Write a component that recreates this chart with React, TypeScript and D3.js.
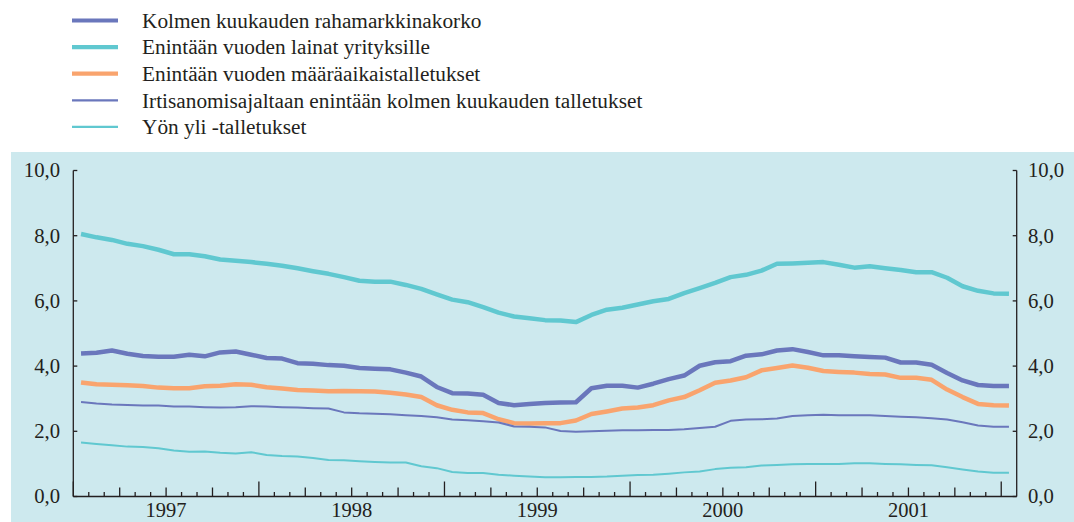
import React from "react";
import * as d3 from "d3";

const W = 1074;
const H = 522;

// Monthly observations, Jan 1997 .. Jan 2002 (61 months)
const months: Date[] = d3.timeMonth.range(new Date(1997, 0, 1), new Date(2002, 1, 1));

const yearLabels = ["1997", "1998", "1999", "2000", "2001"];
const yTicks = [0, 2, 4, 6, 8, 10];

const rahamarkkinakorko = [
  4.39, 4.41, 4.48, 4.38, 4.31, 4.29, 4.29, 4.35, 4.30, 4.42, 4.45, 4.35, 4.25, 4.23, 4.09,
  4.07, 4.03, 4.01, 3.94, 3.92, 3.90, 3.80, 3.68, 3.36, 3.17, 3.16, 3.12, 2.87, 2.80, 2.84,
  2.87, 2.88, 2.89, 3.32, 3.40, 3.40, 3.34, 3.46, 3.60, 3.71, 4.01, 4.12, 4.15, 4.32, 4.36,
  4.48, 4.52, 4.43, 4.33, 4.33, 4.30, 4.28, 4.26, 4.11, 4.11, 4.04, 3.79, 3.56, 3.42, 3.39, 3.39,
];
const lainatYrityksille = [
  8.05, 7.95, 7.87, 7.75, 7.68, 7.57, 7.43, 7.43, 7.37, 7.27, 7.23, 7.19, 7.14, 7.08, 7.0,
  6.91, 6.83, 6.73, 6.62, 6.59, 6.59, 6.49, 6.37, 6.20, 6.04, 5.96, 5.81, 5.64, 5.52, 5.47,
  5.41, 5.40, 5.35, 5.57, 5.73, 5.79, 5.89, 5.99, 6.06, 6.24, 6.39, 6.55, 6.73, 6.80, 6.93,
  7.14, 7.15, 7.17, 7.19, 7.11, 7.02, 7.06, 7.00, 6.95, 6.88, 6.88, 6.71, 6.45, 6.31, 6.23, 6.22,
];
const maaraaikaistalletukset = [
  3.50, 3.44, 3.43, 3.41, 3.39, 3.34, 3.32, 3.32, 3.38, 3.40, 3.44, 3.43, 3.35, 3.31, 3.27,
  3.25, 3.23, 3.24, 3.23, 3.22, 3.18, 3.13, 3.05, 2.80, 2.66, 2.58, 2.56, 2.37, 2.25, 2.24,
  2.25, 2.25, 2.33, 2.53, 2.61, 2.70, 2.73, 2.80, 2.95, 3.05, 3.26, 3.49, 3.56, 3.66, 3.87,
  3.94, 4.02, 3.95, 3.85, 3.82, 3.80, 3.76, 3.74, 3.64, 3.64, 3.58, 3.28, 3.05, 2.84, 2.80, 2.79,
];
const irtisanomisTalletukset = [
  2.90, 2.85, 2.82, 2.81, 2.79, 2.79, 2.76, 2.76, 2.74, 2.73, 2.74, 2.77, 2.76, 2.74, 2.73,
  2.71, 2.70, 2.58, 2.55, 2.54, 2.52, 2.49, 2.47, 2.43, 2.36, 2.34, 2.31, 2.27, 2.15, 2.14,
  2.12, 2.01, 1.99, 2.00, 2.02, 2.03, 2.03, 2.04, 2.04, 2.06, 2.10, 2.14, 2.32, 2.36, 2.37,
  2.39, 2.47, 2.49, 2.51, 2.49, 2.49, 2.49, 2.47, 2.45, 2.43, 2.40, 2.36, 2.28, 2.18, 2.14, 2.14,
];
const yonYliTalletukset = [
  1.66, 1.61, 1.57, 1.53, 1.52, 1.48, 1.41, 1.37, 1.38, 1.34, 1.32, 1.36, 1.27, 1.24, 1.23,
  1.18, 1.12, 1.11, 1.08, 1.06, 1.04, 1.04, 0.93, 0.87, 0.75, 0.72, 0.72, 0.67, 0.64, 0.61,
  0.59, 0.59, 0.60, 0.60, 0.61, 0.64, 0.66, 0.67, 0.70, 0.74, 0.77, 0.84, 0.88, 0.90, 0.95,
  0.97, 0.99, 1.00, 1.00, 1.00, 1.02, 1.02, 1.00, 0.99, 0.97, 0.96, 0.90, 0.83, 0.77, 0.73, 0.73,
];

const BLUE = "#6a77bc";
const TEAL = "#60c8d0";
const ORANGE = "#f9a46e";
const BG = "#cde9ee";
const TEXT = "#231f20";

const series = [
  { name: "Kolmen kuukauden rahamarkkinakorko", values: rahamarkkinakorko, color: BLUE, width: 4.5 },
  { name: "Enintään vuoden lainat yrityksille", values: lainatYrityksille, color: TEAL, width: 4.5 },
  { name: "Enintään vuoden määräaikaistalletukset", values: maaraaikaistalletukset, color: ORANGE, width: 4.5 },
  { name: "Irtisanomisajaltaan enintään kolmen kuukauden talletukset", values: irtisanomisTalletukset, color: BLUE, width: 2 },
  { name: "Yön yli -talletukset", values: yonYliTalletukset, color: TEAL, width: 2 },
];

const FONT = "'Liberation Serif', 'Times New Roman', serif";

export default function App() {
  const left = 73.3;
  const right = 1016.7;
  const top = 170.5;
  const bottom = 496.5;

  const nMonths = months.length; // 61
  const x = d3.scaleLinear().domain([0, nMonths]).range([left, right]);
  const y = d3.scaleLinear().domain([0, 10]).range([bottom, top]);

  const line = d3
    .line<number>()
    .x((_, i) => x(i + 0.5))
    .y((d) => y(d));

  const fmt = (v: number) => v.toFixed(1).replace(".", ",");

  const monthTicks = d3.range(0, nMonths);

  return (
    <div style={{ position: "fixed", left: 0, top: 0 }}>
      <svg width={W} height={H} style={{ display: "block" }} fontFamily={FONT}>
        <rect x={0} y={0} width={W} height={H} fill="#ffffff" />
        {/* Legend */}
        {series.map((s, i) => (
          <g key={s.name} transform={`translate(0, ${20.5 + i * 26.6})`}>
            <line x1={72} x2={118} y1={0} y2={0} stroke={s.color} strokeWidth={s.width === 2 ? 2.2 : 4.2} />
            <text x={142} y={0} dy="0.34em" fontSize={21.3} fill={TEXT}>
              {s.name}
            </text>
          </g>
        ))}

        {/* Plot background */}
        <rect x={11} y={152} width={W - 11} height={H - 152} fill={BG} />

        {/* Lines */}
        {series.map((s) => (
          <path
            key={s.name}
            d={line(s.values) || ""}
            fill="none"
            stroke={s.color}
            strokeWidth={s.width}
            strokeLinejoin="round"
          />
        ))}

        {/* Axes */}
        <g stroke={TEXT} strokeWidth={1.3} fill="none">
          <line x1={left} x2={left} y1={top} y2={bottom} />
          <line x1={right} x2={right} y1={top} y2={bottom} />
          <line x1={left} x2={right} y1={bottom} y2={bottom} />
          {yTicks.map((t) => (
            <g key={t}>
              <line x1={left} x2={left + 4} y1={y(t)} y2={y(t)} />
              <line x1={right - 4} x2={right} y1={y(t)} y2={y(t)} />
            </g>
          ))}
          {monthTicks.map((m) => {
            const len = m % 12 === 0 ? 15 : m % 3 === 0 ? 9 : 4.5;
            return <line key={m} x1={x(m)} x2={x(m)} y1={bottom} y2={bottom - len} />;
          })}
        </g>

        {/* Y labels */}
        {yTicks.map((t) => (
          <g key={t} fontSize={20.7} fill={TEXT}>
            <text x={60} y={y(t)} dy="0.33em" textAnchor="end">
              {fmt(t)}
            </text>
            <text x={1028} y={y(t)} dy="0.33em" textAnchor="start">
              {fmt(t)}
            </text>
          </g>
        ))}

        {/* Year labels */}
        {yearLabels.map((yl, i) => (
          <text key={yl} x={x(i * 12 + 6)} y={517} textAnchor="middle" fontSize={20.5} fill={TEXT}>
            {yl}
          </text>
        ))}
      </svg>
    </div>
  );
}
